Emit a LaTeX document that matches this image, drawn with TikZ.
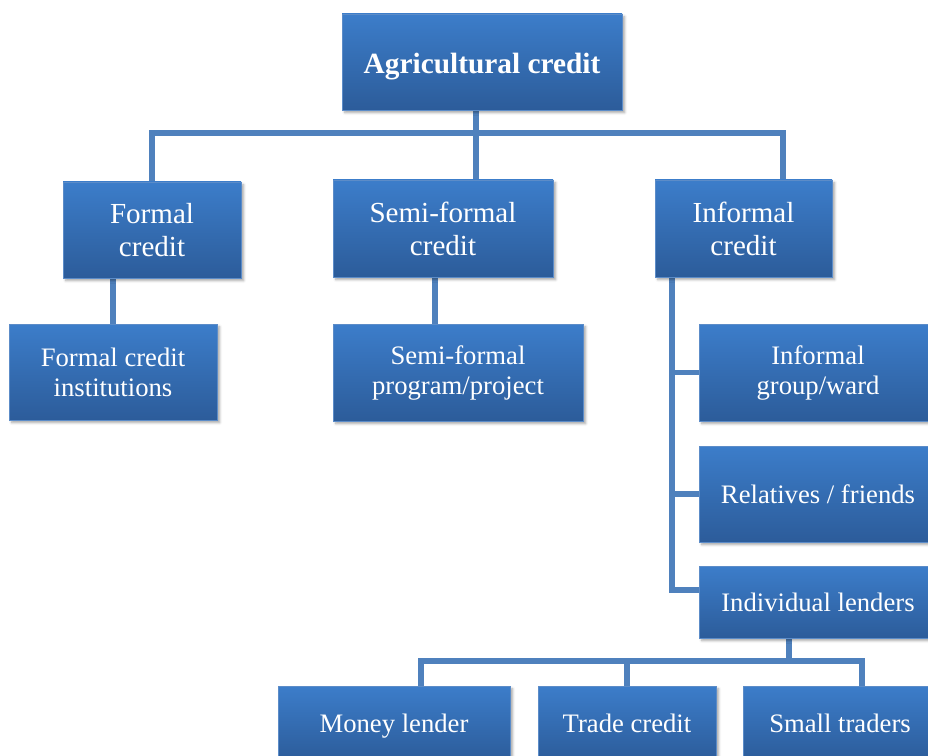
\documentclass[tikz,border=0pt]{standalone}
\usepackage{fontspec}
\setmainfont{Liberation Serif}
\usepackage{xcolor}
\usepackage{tikz}
\usetikzlibrary{positioning,backgrounds,shadows.blur}

\definecolor{boxtop}{RGB}{60,125,202}
\definecolor{boxbot}{RGB}{44,92,154}
\definecolor{boxline}{RGB}{92,140,200}
\definecolor{linkblue}{RGB}{79,129,189}

\begin{document}
\begin{tikzpicture}[
    x=0.75pt, y=-0.75pt,
    box/.style={top color=boxtop, bottom color=boxbot, draw=boxline,
                line width=0.6pt, text=white, align=center, inner sep=0pt,
                blur shadow={shadow xshift=2pt, shadow yshift=-2pt,
                             shadow blur steps=4, shadow opacity=35}},
    big/.style={box, font=\rmfamily\fontsize{21.8}{24.75}\selectfont},
    small/.style={box, font=\rmfamily\fontsize{20}{22.5}\selectfont},
    oneline/.style={small, text height=17pt, text depth=3.5pt},
    link/.style={draw=linkblue, line width=4pt}]
    \clip (0,0) rectangle (928,756);
    \node[box, font=\rmfamily\fontsize{22}{25}\selectfont\bfseries,
          text height=20pt, text depth=2.3pt,
          minimum width=210pt, minimum height=72pt] (agri) at (482,62)
          {Agricultural credit};
    \node[big, minimum width=133.5pt, minimum height=72pt] (formal) at (152,230)
          {Formal\\ credit};
    \node[big, minimum width=165pt, minimum height=72.75pt] (semi) at (443,228.5)
          {Semi-formal\\ credit};
    \node[big, minimum width=132.75pt, minimum height=72.75pt] (informal) at (743.5,228.5)
          {Informal\\ credit};
    \node[small, minimum width=156pt, minimum height=72pt] (inst) at (113,372)
          {Formal credit\\ institutions};
    \node[small, minimum width=187.5pt, minimum height=72.75pt] (prog) at (458,372.5)
          {Semi-formal\\ program/project};
    \node[small, minimum width=178.5pt, minimum height=72.75pt] (group) at (818,372.5)
          {Informal\\ group/ward};
    \node[oneline, minimum width=178.5pt, minimum height=72pt] (rel) at (818,494)
          {Relatives / friends};
    \node[oneline, minimum width=178.5pt, minimum height=54pt] (indiv) at (818,602)
          {Individual lenders};
    \node[oneline, minimum width=174pt, minimum height=55.5pt] (money) at (394,723)
          {Money lender};
    \node[oneline, minimum width=133.5pt, minimum height=55.5pt] (trade) at (627,723)
          {Trade credit};
    \node[oneline, minimum width=145.5pt, minimum height=55.5pt] (smallt) at (840,723)
          {Small traders};
    % junction points of the tree lines
    \coordinate (busL) at (476,133);
    \coordinate (busR) at (783,133);
    \coordinate (semiB) at (435,300);
    \coordinate (infB) at (672,590);
    \coordinate (lendB) at (789,661);
    \coordinate (lowL) at (421,661);
    \coordinate (lowR) at (862,661);
    \begin{scope}[on background layer]
    \draw[link] (agri.south -| busL) -- (busL);
    \draw[link] (formal.north) |- (busR) -- (informal.north -| busR);
    \draw[link] (busL) -- (semi.north -| busL);
    \draw[link] (formal.south -| inst.north) -- (inst.north);
    \draw[link] (semi.south -| semiB) -- (prog.north -| semiB);
    \draw[link] (informal.south -| infB) -- (infB) -- (infB -| indiv.west);
    \draw[link] (group.west) -- (group.west -| infB);
    \draw[link] (rel.west) -- (rel.west -| infB);
    \draw[link] (indiv.south -| lendB) -- (lendB);
    \draw[link] (money.north -| lowL) -- (lowL) -- (lowR) -- (smallt.north -| lowR);
    \draw[link] (trade.north) -- (trade.north |- lowL);
    \end{scope}
\end{tikzpicture}
\end{document}
